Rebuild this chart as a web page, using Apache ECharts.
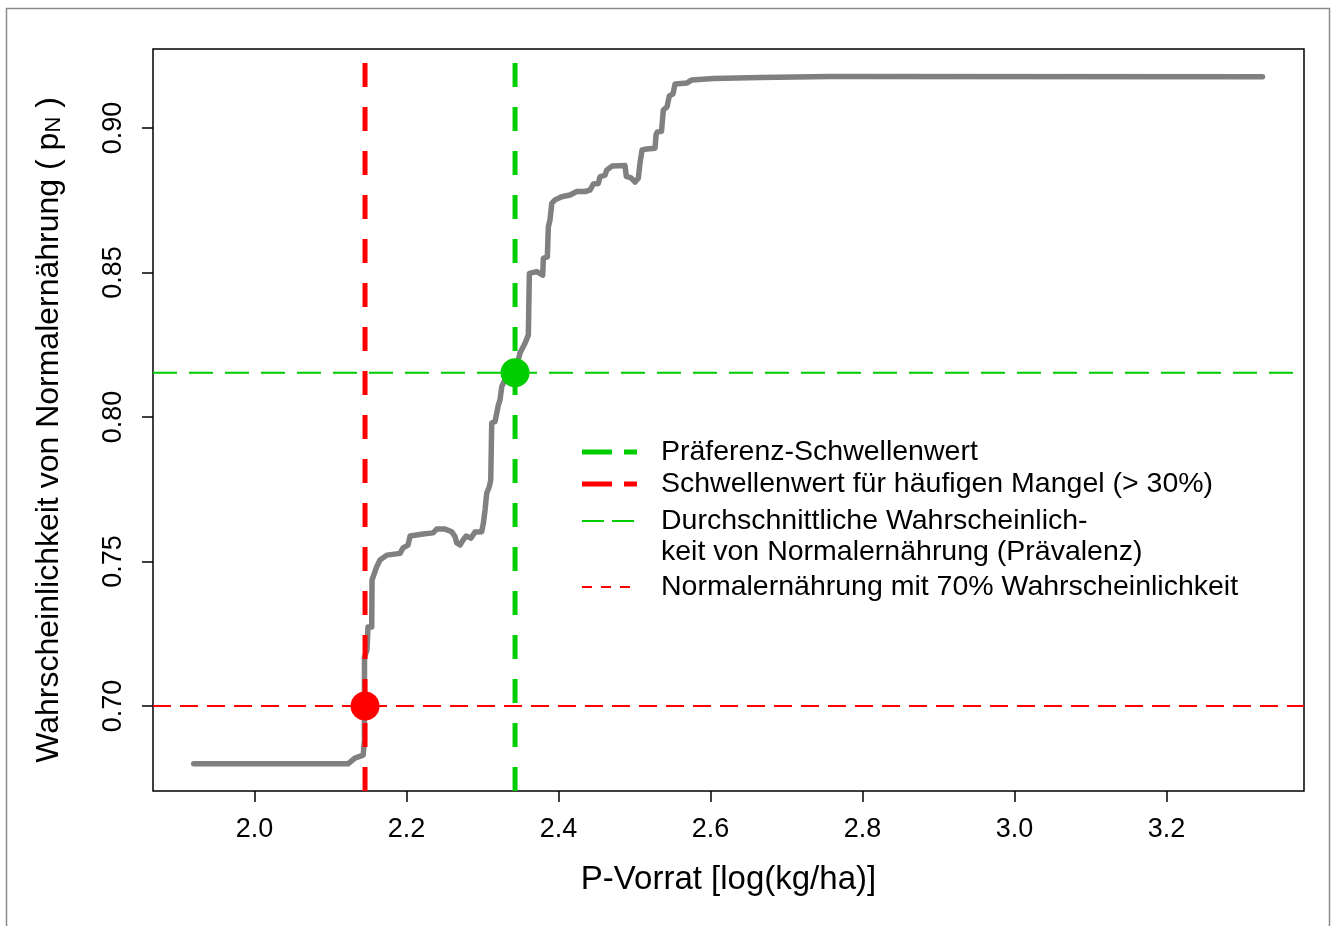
<!DOCTYPE html>
<html>
<head>
<meta charset="utf-8">
<script src="https://cdn.jsdelivr.net/npm/echarts@6/dist/echarts.min.js"></script>
<style>
html,body{margin:0;padding:0;background:#fff;}
#chart{width:1335px;height:926px;}
</style>
</head>
<body>
<div id="chart"></div>
<script>
// ---- data ----
const pVorrat = [1.920,2.123,2.132,2.143,2.1445,2.1447,2.148,2.1493,2.1542,2.1546,2.1608,2.1651,2.174,2.1914,2.1954,2.202,2.2046,2.2217,2.2349,2.2397,2.2507,2.2595,2.2638,2.2661,2.2704,2.2743,2.2783,2.2809,2.2849,2.2901,2.2989,2.3011,2.3033,2.3055,2.3089,2.3108,2.3121,2.3164,2.3187,2.3208,2.323,2.3253,2.3296,2.3384,2.3428,2.3493,2.3559,2.3603,2.3616,2.3713,2.3792,2.380,2.3853,2.3866,2.3888,2.3911,2.3954,2.4042,2.4151,2.424,2.4349,2.4414,2.4458,2.4524,2.4546,2.4612,2.4634,2.4704,2.4875,2.4892,2.4954,2.5007,2.505,2.5072,2.5099,2.516,2.527,2.5283,2.530,2.5355,2.5379,2.5428,2.5458,2.5507,2.5533,2.5687,2.5753,2.6037,2.6651,2.7572,3.3263];
const pN = [0.680,0.680,0.682,0.683,0.6882,0.717,0.7194,0.7273,0.7273,0.7436,0.7482,0.7505,0.7522,0.7528,0.7547,0.7557,0.7588,0.7595,0.7599,0.7612,0.7612,0.7603,0.7586,0.7564,0.7557,0.7574,0.7588,0.7592,0.7581,0.7602,0.7603,0.7632,0.7678,0.7736,0.7759,0.7782,0.7979,0.7984,0.8013,0.8042,0.8059,0.8105,0.8129,0.8140,0.8153,0.8221,0.8255,0.8284,0.8497,0.8503,0.8491,0.8549,0.8554,0.8658,0.8682,0.8739,0.8751,0.8762,0.8768,0.878,0.878,0.8785,0.8806,0.8808,0.8831,0.8837,0.8854,0.8868,0.8870,0.8832,0.8827,0.8813,0.8826,0.8878,0.8924,0.8927,0.893,0.8976,0.8986,0.8988,0.9062,0.9073,0.9111,0.9118,0.9152,0.9155,0.9166,0.9171,0.9174,0.9178,0.9177];

const prefThresholdX = 2.3428;     // Präferenz-Schwellenwert
const mangelThresholdX = 2.1454;   // Schwellenwert für häufigen Mangel
const prevalenceY = 0.8153;        // Durchschnittliche Wahrscheinlichkeit
const level70Y = 0.70;             // 70 % Wahrscheinlichkeit

const xTicks = [2.0, 2.2, 2.4, 2.6, 2.8, 3.0, 3.2];
const yTicks = [0.70, 0.75, 0.80, 0.85, 0.90];

const xMin = 1.8664, xMax = 3.3809;
const yMin = 0.6706, yMax = 0.9273;

const legendLabels = [
  'Präferenz-Schwellenwert',
  'Schwellenwert für häufigen Mangel (> 30%)',
  'Durchschnittliche Wahrscheinlich-',
  'keit von Normalernährung (Prävalenz)',
  'Normalernährung mit 70% Wahrscheinlichkeit'
];
const xTitle = 'P-Vorrat [log(kg/ha)]';

// ---- chart ----
const GREEN = '#00CD00', RED = '#FF0000', GREY = '#808080';
const FONT = '"Liberation Sans", Arial, sans-serif';
const chart = echarts.init(document.getElementById('chart'), null, {renderer: 'canvas'});

const curve = pVorrat.map((x, i) => [x, pN[i]]);

const lx = 582, tx = 661;
const legY = [452, 484, 521, 552, 587];
function seg(x1, x2, y, color, w) {
  return {type: 'line', shape: {x1: x1, y1: y, x2: x2, y2: y},
    style: {stroke: color, lineWidth: w, lineCap: 'butt'}, z: 100};
}
function txt(s, y) {
  return {type: 'text', x: tx, y: y, style: {text: s, font: '28.5px ' + FONT,
    fill: '#000', textVerticalAlign: 'middle'}, z: 100};
}

const option = {
  backgroundColor: '#fff',
  animation: false,
  grid: {left: 153, top: 49, width: 1151, height: 742, show: true,
    borderColor: '#000', borderWidth: 1.5, backgroundColor: 'transparent',
    containLabel: false, outerBoundsMode: 'none'},
  xAxis: {
    type: 'value', min: xMin, max: xMax,
    name: xTitle, nameLocation: 'middle', nameGap: 72,
    nameTextStyle: {fontFamily: FONT, fontSize: 33, color: '#000'},
    axisLine: {show: false},
    splitLine: {show: false},
    axisTick: {show: true, length: 11, customValues: xTicks, lineStyle: {color: '#000', width: 1.5}},
    axisLabel: {show: true, customValues: xTicks, margin: 25, fontFamily: FONT, fontSize: 27, color: '#000',
      formatter: v => v.toFixed(1)}
  },
  yAxis: {
    type: 'value', min: yMin, max: yMax,
    name: 'Wahrscheinlichkeit von Normalernährung ( p{sub|N} )',
    nameLocation: 'middle', nameRotate: 90, nameGap: 88,
    nameTextStyle: {fontFamily: FONT, fontSize: 32, color: '#000', padding: [0, 20, 0, 0],
      rich: {sub: {fontFamily: FONT, fontSize: 22, color: '#000', verticalAlign: 'bottom', padding: [10, 0, 0, 0]}}},
    axisLine: {show: false},
    splitLine: {show: false},
    axisTick: {show: true, length: 11, customValues: yTicks, lineStyle: {color: '#000', width: 1.5}},
    axisLabel: {show: true, customValues: yTicks, rotate: 90, margin: 26, fontFamily: FONT, fontSize: 27, color: '#000',
      formatter: v => v.toFixed(2)}
  },
  series: [
    {type: 'line', data: curve, showSymbol: false, symbol: 'none', z: 2,
      lineStyle: {color: GREY, width: 5.5, join: 'round', cap: 'round'}},
    {type: 'line', data: [[xMin, prevalenceY], [xMax, prevalenceY]], showSymbol: false, symbol: 'none', z: 3,
      lineStyle: {color: GREEN, width: 2, type: [24, 12]}},
    {type: 'line', data: [[xMin, level70Y], [xMax, level70Y]], showSymbol: false, symbol: 'none', z: 3,
      lineStyle: {color: RED, width: 2, type: [18, 9]}},
    {type: 'line', data: [[mangelThresholdX, yMin], [mangelThresholdX, yMax]], showSymbol: false, symbol: 'none', z: 4,
      lineStyle: {color: RED, width: 5, type: [24, 20], cap: 'butt'}},
    {type: 'line', data: [[prefThresholdX, yMin], [prefThresholdX, yMax]], showSymbol: false, symbol: 'none', z: 4,
      lineStyle: {color: GREEN, width: 5, type: [24, 20], cap: 'butt'}},
    {type: 'scatter', data: [[mangelThresholdX, level70Y]], symbol: 'circle', symbolSize: 29, z: 5,
      itemStyle: {color: RED, opacity: 1}},
    {type: 'scatter', data: [[prefThresholdX, prevalenceY]], symbol: 'circle', symbolSize: 29, z: 5,
      itemStyle: {color: GREEN, opacity: 1}}
  ],
  graphic: [
    {type: 'rect', shape: {x: 6.5, y: 8.5, width: 1323, height: 940},
      style: {fill: 'none', stroke: '#8a8a8a', lineWidth: 1.5}, z: 0, silent: true},
    seg(lx, lx + 30, legY[0], GREEN, 5), seg(lx + 42, lx + 55, legY[0], GREEN, 5),
    seg(lx, lx + 30, legY[1], RED, 5), seg(lx + 42, lx + 55, legY[1], RED, 5),
    seg(lx, lx + 22, legY[2], GREEN, 2), seg(lx + 30, lx + 52, legY[2], GREEN, 2),
    seg(lx, lx + 10, legY[4], RED, 2), seg(lx + 19, lx + 29, legY[4], RED, 2), seg(lx + 38, lx + 48, legY[4], RED, 2),
    txt(legendLabels[0], legY[0]), txt(legendLabels[1], legY[1]), txt(legendLabels[2], legY[2]),
    txt(legendLabels[3], legY[3]), txt(legendLabels[4], legY[4])
  ]
};
chart.setOption(option);
</script>
</body>
</html>
